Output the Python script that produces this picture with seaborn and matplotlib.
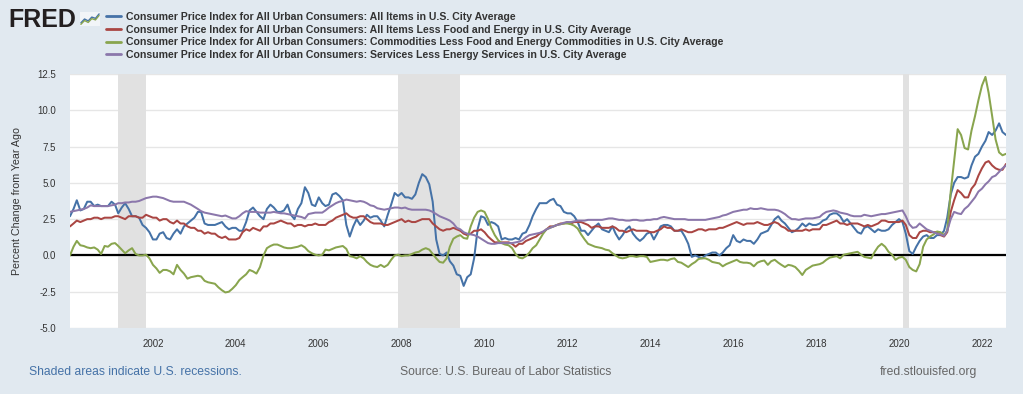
import pandas as pd
import seaborn as sns
import matplotlib.pyplot as plt

# Percent change from year ago, monthly from Jan 2000
START = '2000-01-01'

cpi_all_items = [
    2.7, 3.2, 3.8, 3.1, 3.2, 3.7, 3.7, 3.4, 3.5, 3.4, 3.4, 3.4,  # 2000
    3.7, 3.5, 2.9, 3.3, 3.6, 3.2, 2.7, 2.7, 2.6, 2.1, 1.9, 1.6,  # 2001
    1.1, 1.1, 1.5, 1.6, 1.2, 1.1, 1.5, 1.8, 1.5, 2.0, 2.2, 2.4,  # 2002
    2.6, 3.0, 3.0, 2.2, 2.1, 2.1, 2.1, 2.2, 2.3, 2.0, 1.8, 1.9,  # 2003
    1.9, 1.7, 1.7, 2.3, 3.1, 3.3, 3.0, 2.7, 2.5, 3.2, 3.5, 3.3,  # 2004
    3.0, 3.0, 3.1, 3.5, 2.8, 2.5, 3.2, 3.6, 4.7, 4.3, 3.5, 3.4,  # 2005
    4.0, 3.6, 3.4, 3.5, 4.2, 4.3, 4.1, 3.8, 2.1, 1.3, 2.0, 2.5,  # 2006
    2.1, 2.4, 2.8, 2.6, 2.7, 2.7, 2.4, 2.0, 2.8, 3.5, 4.3, 4.1,  # 2007
    4.3, 4.0, 4.0, 3.9, 4.2, 5.0, 5.6, 5.4, 4.9, 3.7, 1.1, 0.1,  # 2008
    0.0, 0.2, -0.4, -0.7, -1.3, -1.4, -2.1, -1.5, -1.3, -0.2, 1.8, 2.7,  # 2009
    2.6, 2.1, 2.3, 2.2, 2.0, 1.1, 1.2, 1.1, 1.1, 1.2, 1.1, 1.5,  # 2010
    1.6, 2.1, 2.7, 3.2, 3.6, 3.6, 3.6, 3.8, 3.9, 3.5, 3.4, 3.0,  # 2011
    2.9, 2.9, 2.7, 2.3, 1.7, 1.7, 1.4, 1.7, 2.0, 2.2, 1.8, 1.7,  # 2012
    1.6, 2.0, 1.5, 1.1, 1.4, 1.8, 2.0, 1.5, 1.2, 1.0, 1.2, 1.5,  # 2013
    1.6, 1.1, 1.5, 2.0, 2.1, 2.1, 2.0, 1.7, 1.7, 1.7, 1.3, 0.8,  # 2014
    -0.1, 0.0, -0.1, -0.2, 0.0, 0.1, 0.2, 0.2, 0.0, 0.2, 0.5, 0.7,  # 2015
    1.4, 1.0, 0.9, 1.1, 1.0, 1.0, 0.8, 1.1, 1.5, 1.6, 1.7, 2.1,  # 2016
    2.5, 2.7, 2.4, 2.2, 1.9, 1.6, 1.7, 1.9, 2.2, 2.0, 2.2, 2.1,  # 2017
    2.1, 2.2, 2.4, 2.5, 2.8, 2.9, 2.9, 2.7, 2.3, 2.5, 2.2, 1.9,  # 2018
    1.6, 1.5, 1.9, 2.0, 1.8, 1.6, 1.8, 1.7, 1.7, 1.8, 2.1, 2.3,  # 2019
    2.5, 2.3, 1.5, 0.3, 0.1, 0.6, 1.0, 1.3, 1.4, 1.2, 1.2, 1.4,  # 2020
    1.4, 1.7, 2.6, 4.2, 5.0, 5.4, 5.4, 5.3, 5.4, 6.2, 6.8, 7.0,  # 2021
    7.5, 7.9, 8.5, 8.3, 8.6, 9.1, 8.5, 8.3,  # 2022
]

cpi_core = [
    2.0, 2.2, 2.4, 2.3, 2.4, 2.5, 2.5, 2.6, 2.6, 2.5, 2.6, 2.6,  # 2000
    2.6, 2.7, 2.7, 2.6, 2.5, 2.7, 2.7, 2.7, 2.6, 2.6, 2.8, 2.7,  # 2001
    2.6, 2.6, 2.4, 2.5, 2.5, 2.3, 2.2, 2.4, 2.2, 2.2, 2.0, 1.9,  # 2002
    1.9, 1.7, 1.7, 1.5, 1.6, 1.5, 1.5, 1.3, 1.2, 1.3, 1.1, 1.1,  # 2003
    1.1, 1.2, 1.6, 1.8, 1.7, 1.9, 1.8, 1.7, 2.0, 2.0, 2.2, 2.2,  # 2004
    2.3, 2.4, 2.3, 2.2, 2.2, 2.0, 2.1, 2.1, 2.0, 2.1, 2.1, 2.2,  # 2005
    2.1, 2.1, 2.1, 2.3, 2.4, 2.6, 2.7, 2.8, 2.9, 2.7, 2.6, 2.6,  # 2006
    2.7, 2.7, 2.5, 2.3, 2.2, 2.2, 2.2, 2.1, 2.1, 2.2, 2.3, 2.4,  # 2007
    2.5, 2.3, 2.4, 2.3, 2.3, 2.4, 2.5, 2.5, 2.5, 2.2, 2.0, 1.8,  # 2008
    1.7, 1.8, 1.8, 1.9, 1.8, 1.7, 1.5, 1.4, 1.5, 1.7, 1.7, 1.8,  # 2009
    1.6, 1.3, 1.1, 0.9, 0.9, 0.9, 0.9, 0.9, 0.8, 0.6, 0.8, 0.8,  # 2010
    1.0, 1.1, 1.2, 1.3, 1.5, 1.6, 1.8, 2.0, 2.0, 2.1, 2.2, 2.2,  # 2011
    2.3, 2.2, 2.3, 2.3, 2.3, 2.2, 2.1, 1.9, 2.0, 2.0, 1.9, 1.9,  # 2012
    1.9, 2.0, 1.9, 1.7, 1.7, 1.6, 1.7, 1.8, 1.7, 1.7, 1.7, 1.7,  # 2013
    1.6, 1.6, 1.7, 1.8, 2.0, 1.9, 1.9, 1.7, 1.7, 1.8, 1.7, 1.6,  # 2014
    1.6, 1.7, 1.8, 1.8, 1.7, 1.8, 1.8, 1.8, 1.9, 1.9, 2.0, 2.1,  # 2015
    2.2, 2.3, 2.2, 2.1, 2.2, 2.2, 2.2, 2.3, 2.2, 2.1, 2.1, 2.2,  # 2016
    2.3, 2.2, 2.0, 1.9, 1.7, 1.7, 1.7, 1.7, 1.7, 1.8, 1.7, 1.8,  # 2017
    1.8, 1.8, 2.1, 2.1, 2.2, 2.3, 2.4, 2.2, 2.2, 2.1, 2.2, 2.2,  # 2018
    2.2, 2.1, 2.0, 2.1, 2.0, 2.1, 2.2, 2.4, 2.4, 2.3, 2.3, 2.3,  # 2019
    2.3, 2.4, 2.1, 1.4, 1.2, 1.2, 1.6, 1.7, 1.7, 1.6, 1.6, 1.6,  # 2020
    1.4, 1.3, 1.6, 3.0, 3.8, 4.5, 4.3, 4.0, 4.0, 4.6, 4.9, 5.5,  # 2021
    6.0, 6.4, 6.5, 6.2, 6.0, 5.9, 5.9, 6.3,  # 2022
]

cpi_core_goods = [
    0.0, 0.6, 1.0, 0.7, 0.65, 0.55, 0.5, 0.55, 0.4, 0.1, 0.65, 0.6,  # 2000
    0.8, 0.85, 0.65, 0.4, 0.15, 0.35, 0.5, 0.1, 0.0, 0.0, 0.05, -0.2,  # 2001
    -0.65, -0.9, -1.2, -1.0, -1.0, -1.1, -1.3, -0.65, -1.0, -1.25, -1.6, -1.5,  # 2002
    -1.45, -1.4, -1.45, -1.75, -1.85, -1.9, -1.95, -2.2, -2.4, -2.55, -2.5, -2.3,  # 2003
    -2.05, -1.7, -1.5, -1.3, -1.0, -1.1, -1.25, -0.8, 0.0, 0.5, 0.65, 0.75,  # 2004
    0.75, 0.65, 0.55, 0.5, 0.5, 0.55, 0.6, 0.7, 0.55, 0.3, 0.15, 0.05,  # 2005
    0.0, 0.05, 0.4, 0.35, 0.45, 0.55, 0.6, 0.65, 0.45, -0.05, -0.1, -0.2,  # 2006
    -0.05, -0.2, -0.45, -0.65, -0.75, -0.8, -0.65, -0.8, -0.65, -0.3, 0.0, 0.05,  # 2007
    -0.05, 0.0, 0.0, 0.1, 0.2, 0.25, 0.4, 0.5, 0.4, 0.1, -0.2, -0.45,  # 2008
    -0.5, -0.2, 0.6, 1.15, 1.3, 1.4, 1.2, 1.15, 2.0, 2.6, 3.0, 3.1,  # 2009
    3.0, 2.5, 1.9, 1.4, 1.05, 0.85, 0.75, 0.7, 0.5, 0.1, -0.15, -0.2,  # 2010
    -0.05, 0.2, 0.5, 0.7, 1.1, 1.5, 1.8, 1.9, 2.0, 2.1, 2.15, 2.2,  # 2011
    2.2, 2.15, 2.05, 1.85, 1.45, 1.1, 0.8, 0.7, 0.6, 0.55, 0.5, 0.4,  # 2012
    0.35, 0.15, 0.0, -0.15, -0.2, -0.15, -0.05, -0.05, -0.1, -0.05, -0.05, -0.1,  # 2013
    -0.45, -0.4, -0.35, -0.3, -0.3, -0.35, -0.25, -0.2, -0.45, -0.5, -0.65, -0.8,  # 2014
    -0.6, -0.45, -0.25, -0.2, -0.2, -0.3, -0.45, -0.5, -0.55, -0.75, -0.6, -0.5,  # 2015
    -0.4, -0.3, -0.45, -0.5, -0.5, -0.55, -0.75, -0.5, -0.4, -0.35, -0.65, -0.4,  # 2016
    -0.3, -0.5, -0.65, -0.8, -0.65, -0.7, -0.8, -1.05, -1.35, -1.0, -0.85, -0.7,  # 2017
    -0.65, -0.6, -0.5, -0.3, -0.15, -0.1, -0.05, -0.2, 0.05, 0.1, 0.15, 0.2,  # 2018
    0.25, 0.05, -0.1, -0.15, -0.2, 0.25, 0.6, 0.8, 0.6, 0.25, 0.05, -0.3,  # 2019
    -0.15, -0.1, -0.3, -0.8, -1.0, -1.1, -0.6, 0.6, 1.1, 1.3, 1.45, 1.65,  # 2020
    1.6, 1.4, 1.7, 4.4, 6.5, 8.7, 8.3, 7.4, 7.3, 8.6, 9.6, 10.7,  # 2021
    11.7, 12.3, 11.2, 9.6, 8.0, 7.1, 6.9, 7.0,  # 2022
]

cpi_core_services = [
    3.0, 3.05, 3.1, 3.15, 3.2, 3.3, 3.45, 3.4, 3.4, 3.4, 3.4, 3.4,  # 2000
    3.45, 3.5, 3.6, 3.6, 3.65, 3.65, 3.7, 3.7, 3.75, 3.85, 3.95, 4.0,  # 2001
    4.05, 4.05, 4.0, 3.95, 3.85, 3.75, 3.7, 3.7, 3.7, 3.7, 3.6, 3.5,  # 2002
    3.35, 3.2, 3.05, 2.95, 2.9, 2.85, 2.8, 2.75, 2.7, 2.75, 2.65, 2.55,  # 2003
    2.55, 2.7, 2.9, 3.05, 3.0, 3.0, 3.0, 2.95, 2.95, 2.95, 2.95, 3.0,  # 2004
    2.95, 2.9, 2.9, 2.85, 2.8, 2.75, 2.7, 2.65, 2.55, 2.85, 2.9, 2.95,  # 2005
    2.95, 2.95, 3.1, 3.3, 3.45, 3.6, 3.7, 3.75, 3.85, 3.8, 3.75, 3.7,  # 2006
    3.75, 3.7, 3.6, 3.45, 3.4, 3.25, 3.2, 3.15, 3.2, 3.25, 3.3, 3.3,  # 2007
    3.25, 3.3, 3.2, 3.15, 3.15, 3.15, 3.15, 3.15, 3.1, 3.0, 2.85, 2.7,  # 2008
    2.6, 2.5, 2.4, 2.2, 1.9, 1.8, 1.6, 1.5, 1.45, 1.4, 1.3, 1.15,  # 2009
    1.0, 0.85, 0.8, 0.8, 0.85, 0.85, 0.85, 0.85, 0.85, 0.9, 0.95, 1.05,  # 2010
    1.25, 1.4, 1.45, 1.5, 1.55, 1.65, 1.8, 1.9, 2.0, 2.1, 2.15, 2.25,  # 2011
    2.3, 2.3, 2.35, 2.4, 2.4, 2.4, 2.45, 2.45, 2.45, 2.45, 2.45, 2.5,  # 2012
    2.55, 2.55, 2.5, 2.45, 2.45, 2.4, 2.4, 2.45, 2.45, 2.4, 2.4, 2.45,  # 2013
    2.45, 2.5, 2.5, 2.6, 2.65, 2.6, 2.55, 2.5, 2.5, 2.5, 2.5, 2.45,  # 2014
    2.45, 2.45, 2.45, 2.45, 2.45, 2.5, 2.55, 2.6, 2.65, 2.75, 2.8, 2.9,  # 2015
    3.0, 3.05, 3.1, 3.15, 3.15, 3.25, 3.2, 3.2, 3.25, 3.2, 3.15, 3.15,  # 2016
    3.15, 3.1, 3.0, 2.85, 2.65, 2.5, 2.5, 2.45, 2.5, 2.55, 2.55, 2.55,  # 2017
    2.6, 2.65, 2.85, 3.0, 3.05, 3.1, 3.05, 2.95, 2.9, 2.85, 2.75, 2.7,  # 2018
    2.7, 2.7, 2.8, 2.75, 2.7, 2.75, 2.8, 2.85, 2.85, 2.9, 2.95, 3.0,  # 2019
    3.05, 3.1, 2.7, 2.15, 1.9, 1.95, 2.2, 2.0, 1.8, 1.7, 1.6, 1.5,  # 2020
    1.45, 1.35, 1.7, 2.5, 3.0, 2.9, 2.85, 3.2, 3.4, 3.7, 4.0, 4.4,  # 2021
    4.6, 4.9, 5.1, 5.4, 5.5, 5.75, 6.0, 6.2,  # 2022
]

series_names = [
    'Consumer Price Index for All Urban Consumers: All Items in U.S. City Average',
    'Consumer Price Index for All Urban Consumers: All Items Less Food and Energy in U.S. City Average',
    'Consumer Price Index for All Urban Consumers: Commodities Less Food and Energy Commodities in U.S. City Average',
    'Consumer Price Index for All Urban Consumers: Services Less Energy Services in U.S. City Average',
]
series_colors = ['#4572A7', '#AA4643', '#89A54E', '#8B77AB']

recessions = [('2001-03-01', '2001-11-01'), ('2007-12-01', '2009-06-01'), ('2020-02-01', '2020-04-01')]
y_ticks = [-5.0, -2.5, 0.0, 2.5, 5.0, 7.5, 10.0, 12.5]
x_tick_years = list(range(2002, 2023, 2))
icon_line = [0.15, 0.45, 0.3, 0.6, 0.5, 0.85]

BG = '#E1E9F0'
TXT = '#333333'
W, H = 1023, 394

# long-format frame for seaborn
values = [cpi_all_items, cpi_core, cpi_core_goods, cpi_core_services]
assert all(len(v) == len(cpi_all_items) for v in values), [len(v) for v in values]
dates = pd.date_range(START, periods=len(cpi_all_items), freq='MS')
df = pd.concat([pd.DataFrame({'date': dates, 'value': v, 'series': n})
                for n, v in zip(series_names, values)], ignore_index=True)

sns.set_theme(style='white')
plt.rcParams['font.family'] = ['Liberation Sans', 'DejaVu Sans']

fig = plt.figure(figsize=(W / 100, H / 100), dpi=100, facecolor=BG)
ax = fig.add_axes([70 / W, 1 - 328 / H, 936 / W, 254 / H])
ax.set_facecolor('white')

# recession shading
for start, end in recessions:
    ax.axvspan(pd.Timestamp(start), pd.Timestamp(end), color='#e1e1e1', lw=0, zorder=1)

ax.axhline(0, color='black', lw=1.6, zorder=2)

sns.lineplot(data=df, x='date', y='value', hue='series', hue_order=series_names,
             palette=series_colors, linewidth=1.45, ax=ax, zorder=3)

# axes styling
ax.set_ylim(y_ticks[0], y_ticks[-1])
ax.set_yticks(y_ticks)
ax.set_yticklabels([f'{v:.1f}' for v in y_ticks])
ax.set_xlim(dates[0], dates[-1])
ax.set_xticks([pd.Timestamp(f'{y}-01-01') for y in x_tick_years])
ax.set_xticklabels([str(y) for y in x_tick_years])
ax.tick_params(axis='y', length=0, pad=10, labelsize=7, labelcolor=TXT)
ax.tick_params(axis='x', length=5.8, width=0.8, color='#ccd6eb', pad=2, labelsize=7, labelcolor=TXT)
ax.yaxis.grid(True, color='#e6e6e6', lw=1)
ax.xaxis.grid(False)
ax.set_axisbelow(True)
for s in ax.spines.values():
    s.set_visible(False)
ax.set_xlabel('')
ax.set_ylabel('Percent Change from Year Ago', fontsize=7.7, color=TXT)
ax.yaxis.set_label_coords(-(70 - 22) / 936, 0.5)

# legend at the top of the figure
leg = ax.get_legend()
handles = leg.legend_handles
labels = [t.get_text() for t in leg.get_texts()]
leg.remove()
for h in handles:
    h.set_linewidth(2)
fig.legend(handles, labels, loc='upper left', bbox_to_anchor=(106 / W, 1 - 12 / H),
           frameon=False, handlelength=1.4, handletextpad=0.45, labelspacing=0.25,
           borderpad=0, borderaxespad=0, prop={'weight': 'bold', 'size': 7.6}, labelcolor=TXT)

# FRED logo
fig.text(8 / W, 1 - 20 / H, 'FRED', fontsize=18, fontweight='bold', color='#231f20', va='center', ha='left')
iax = fig.add_axes([80 / W, 1 - 26 / H, 20 / W, 14 / H])
iax.plot(icon_line, color='#4572A7', lw=1)
iax.plot([v - 0.12 for v in icon_line], color='#89A54E', lw=1)
iax.set_facecolor('#f2f5f8')
iax.set_xticks([])
iax.set_yticks([])
iax.set_ylim(-0.1, 1)
for s in iax.spines.values():
    s.set_visible(False)

# footer
fy = 1 - 372 / H
fig.text(29 / W, fy, 'Shaded areas indicate U.S. recessions.', fontsize=8.7, color='#4572A7', va='center')
fig.text(400 / W, fy, 'Source: U.S. Bureau of Labor Statistics', fontsize=8.7, color='#666666', va='center')
fig.text(880 / W, fy, 'fred.stlouisfed.org', fontsize=8.7, color='#666666', va='center')

fig.savefig('out.png', dpi=100, facecolor=BG)
